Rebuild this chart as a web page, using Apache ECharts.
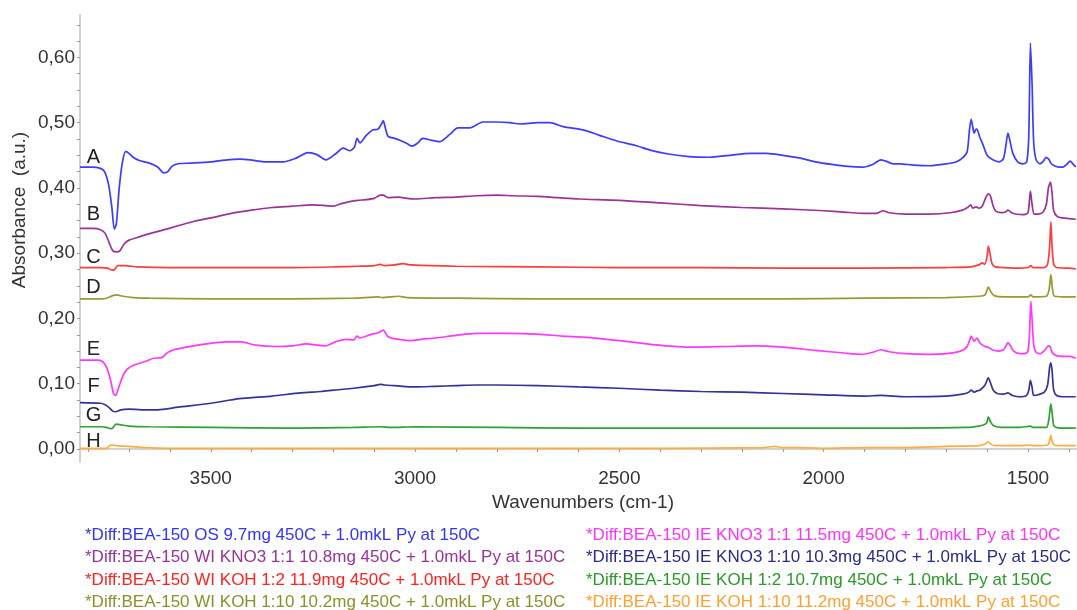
<!DOCTYPE html>
<html>
<head>
<meta charset="utf-8">
<title>IR spectra of adsorbed pyridine</title>
<script src="https://cdn.jsdelivr.net/npm/echarts@6/dist/echarts.min.js"></script>
<style>
  html, body { margin: 0; padding: 0; background: #fff; }
  #chart { width: 1077px; height: 610px; }
</style>
</head>
<body>
<div id="chart"></div>
<script>
// Difference spectra after pyridine adsorption at 150C: [wavenumber cm-1, absorbance]
const specA = [[3820,0.432],[3790,0.432],[3770,0.430],[3760,0.425],[3750,0.405],[3742,0.37],[3736,0.337],[3731,0.345],[3724,0.40],[3716,0.44],[3708,0.456],[3700,0.453],[3690,0.447],[3675,0.442],[3650,0.438],[3630,0.432],[3615,0.423],[3605,0.425],[3595,0.433],[3580,0.437],[3550,0.438],[3500,0.440],[3460,0.443],[3430,0.444],[3404,0.443],[3370,0.440],[3323,0.440],[3290,0.446],[3262,0.454],[3240,0.451],[3218,0.443],[3195,0.452],[3176,0.461],[3159,0.457],[3148,0.463],[3142,0.476],[3135,0.469],[3120,0.480],[3103,0.489],[3091,0.490],[3083,0.497],[3078,0.503],[3072,0.490],[3066,0.479],[3050,0.476],[3037,0.473],[3020,0.468],[3007,0.464],[2995,0.468],[2981,0.476],[2960,0.473],[2939,0.471],[2915,0.482],[2895,0.492],[2866,0.492],[2834,0.501],[2800,0.501],[2768,0.500],[2743,0.498],[2700,0.500],[2670,0.500],[2638,0.494],[2589,0.489],[2550,0.481],[2506,0.472],[2460,0.465],[2425,0.458],[2380,0.452],[2330,0.448],[2280,0.447],[2230,0.450],[2180,0.453],[2140,0.453],[2100,0.450],[2060,0.446],[2020,0.440],[1980,0.436],[1940,0.433],[1905,0.432],[1880,0.436],[1860,0.443],[1848,0.441],[1830,0.437],[1813,0.437],[1780,0.435],[1740,0.434],[1698,0.437],[1675,0.440],[1660,0.446],[1649,0.455],[1643,0.49],[1639,0.505],[1635,0.493],[1632,0.484],[1628,0.489],[1625,0.490],[1618,0.478],[1610,0.466],[1600,0.450],[1586,0.443],[1570,0.440],[1560,0.445],[1554,0.465],[1549,0.484],[1544,0.472],[1537,0.453],[1525,0.440],[1512,0.437],[1503,0.440],[1498,0.48],[1494,0.622],[1490,0.56],[1486,0.47],[1480,0.443],[1471,0.437],[1462,0.441],[1456,0.447],[1451,0.445],[1449,0.444],[1444,0.438],[1439,0.435],[1425,0.432],[1414,0.432],[1405,0.436],[1397,0.441],[1390,0.437],[1383,0.432]];
const specB = [[3820,0.338],[3790,0.338],[3770,0.336],[3758,0.33],[3748,0.315],[3740,0.304],[3730,0.302],[3722,0.304],[3712,0.314],[3700,0.320],[3680,0.324],[3650,0.330],[3620,0.335],[3580,0.342],[3540,0.349],[3500,0.354],[3450,0.361],[3400,0.366],[3350,0.370],[3300,0.372],[3250,0.374],[3220,0.373],[3200,0.372],[3180,0.376],[3160,0.379],[3140,0.381],[3120,0.382],[3100,0.384],[3085,0.389],[3078,0.389],[3066,0.385],[3040,0.386],[3020,0.384],[3000,0.383],[2950,0.385],[2900,0.386],[2850,0.388],[2800,0.389],[2760,0.388],[2700,0.387],[2650,0.385],[2600,0.383],[2500,0.381],[2400,0.377],[2300,0.373],[2200,0.370],[2100,0.368],[2000,0.365],[1950,0.363],[1900,0.361],[1870,0.361],[1855,0.365],[1840,0.362],[1800,0.360],[1740,0.360],[1690,0.362],[1660,0.366],[1648,0.370],[1640,0.374],[1635,0.369],[1627,0.371],[1620,0.369],[1612,0.372],[1604,0.384],[1597,0.391],[1592,0.388],[1585,0.372],[1578,0.364],[1565,0.362],[1555,0.363],[1549,0.366],[1540,0.362],[1530,0.360],[1512,0.359],[1500,0.362],[1494,0.395],[1490,0.375],[1485,0.360],[1475,0.360],[1463,0.363],[1455,0.375],[1450,0.400],[1445,0.409],[1441,0.392],[1437,0.365],[1428,0.356],[1415,0.354],[1400,0.353],[1383,0.352]];
const specC = [[3820,0.278],[3770,0.278],[3752,0.277],[3742,0.274],[3735,0.275],[3728,0.281],[3710,0.281],[3680,0.279],[3600,0.278],[3500,0.278],[3400,0.278],[3300,0.278],[3200,0.279],[3140,0.280],[3100,0.281],[3085,0.283],[3075,0.281],[3050,0.282],[3030,0.284],[3010,0.282],[2900,0.280],[2700,0.279],[2500,0.278],[2300,0.278],[2100,0.277],[1900,0.277],[1700,0.278],[1640,0.279],[1620,0.282],[1612,0.285],[1606,0.283],[1600,0.295],[1597,0.311],[1593,0.300],[1588,0.284],[1580,0.279],[1560,0.278],[1520,0.277],[1500,0.278],[1493,0.281],[1488,0.278],[1460,0.278],[1452,0.283],[1447,0.31],[1444,0.348],[1441,0.31],[1437,0.283],[1430,0.278],[1400,0.277],[1383,0.276]];
const specD = [[3820,0.230],[3770,0.230],[3755,0.231],[3740,0.235],[3730,0.236],[3715,0.234],[3690,0.232],[3650,0.231],[3500,0.230],[3300,0.230],[3150,0.231],[3090,0.233],[3080,0.232],[3040,0.234],[3020,0.232],[2900,0.231],[2700,0.230],[2400,0.230],[2100,0.230],[1900,0.231],[1700,0.232],[1620,0.234],[1605,0.236],[1597,0.248],[1590,0.240],[1583,0.235],[1560,0.233],[1500,0.233],[1493,0.236],[1488,0.233],[1455,0.234],[1448,0.245],[1444,0.267],[1440,0.245],[1435,0.234],[1400,0.233],[1383,0.233]];
const specE = [[3820,0.136],[3780,0.136],[3765,0.134],[3755,0.125],[3745,0.105],[3738,0.085],[3733,0.082],[3726,0.093],[3715,0.112],[3705,0.122],[3690,0.128],[3660,0.134],[3640,0.139],[3620,0.140],[3605,0.148],[3590,0.152],[3560,0.156],[3510,0.161],[3460,0.164],[3425,0.164],[3390,0.159],[3340,0.157],[3300,0.158],[3265,0.161],[3240,0.159],[3220,0.158],[3195,0.164],[3170,0.168],[3150,0.167],[3142,0.173],[3135,0.170],[3105,0.176],[3090,0.178],[3078,0.182],[3066,0.172],[3040,0.168],[3010,0.166],[2985,0.168],[2950,0.170],[2900,0.174],[2850,0.177],[2780,0.177],[2700,0.176],[2640,0.173],[2580,0.171],[2500,0.166],[2420,0.160],[2320,0.156],[2240,0.157],[2170,0.158],[2100,0.156],[2020,0.151],[1950,0.147],[1905,0.145],[1880,0.148],[1860,0.152],[1840,0.149],[1800,0.146],[1740,0.145],[1700,0.146],[1665,0.150],[1650,0.156],[1642,0.168],[1639,0.173],[1632,0.165],[1625,0.170],[1617,0.162],[1605,0.157],[1595,0.155],[1588,0.152],[1572,0.150],[1560,0.152],[1554,0.158],[1549,0.163],[1543,0.158],[1535,0.150],[1520,0.146],[1508,0.146],[1500,0.15],[1496,0.18],[1493,0.226],[1490,0.20],[1486,0.16],[1480,0.148],[1470,0.146],[1458,0.152],[1450,0.158],[1446,0.157],[1440,0.147],[1430,0.143],[1415,0.142],[1397,0.142],[1383,0.139]];
const specF = [[3820,0.071],[3770,0.070],[3760,0.068],[3750,0.064],[3740,0.058],[3733,0.057],[3720,0.060],[3700,0.061],[3670,0.060],[3630,0.060],[3580,0.064],[3500,0.070],[3430,0.077],[3350,0.081],[3280,0.086],[3230,0.088],[3200,0.090],[3150,0.093],[3100,0.097],[3085,0.099],[3075,0.098],[3050,0.097],[3000,0.095],[2950,0.096],[2900,0.097],[2850,0.098],[2800,0.098],[2700,0.097],[2600,0.095],[2500,0.093],[2400,0.090],[2300,0.088],[2200,0.087],[2100,0.085],[2000,0.083],[1900,0.081],[1860,0.082],[1800,0.080],[1700,0.081],[1660,0.084],[1645,0.087],[1639,0.090],[1632,0.087],[1625,0.089],[1618,0.090],[1605,0.098],[1597,0.109],[1591,0.100],[1585,0.090],[1575,0.085],[1560,0.084],[1549,0.086],[1538,0.082],[1520,0.080],[1505,0.081],[1498,0.09],[1494,0.105],[1490,0.095],[1486,0.082],[1475,0.083],[1460,0.087],[1452,0.098],[1447,0.125],[1444,0.132],[1441,0.12],[1437,0.09],[1430,0.082],[1415,0.080],[1383,0.080]];
const specG = [[3820,0.034],[3770,0.034],[3755,0.033],[3745,0.031],[3740,0.032],[3732,0.038],[3720,0.037],[3700,0.035],[3650,0.034],[3500,0.033],[3300,0.032],[3150,0.033],[3085,0.034],[3060,0.033],[3000,0.034],[2800,0.033],[2600,0.032],[2400,0.032],[2200,0.032],[2000,0.032],[1800,0.032],[1650,0.033],[1620,0.035],[1608,0.037],[1601,0.040],[1597,0.049],[1592,0.042],[1585,0.036],[1565,0.033],[1520,0.033],[1494,0.035],[1488,0.033],[1455,0.033],[1449,0.045],[1444,0.069],[1440,0.05],[1436,0.035],[1420,0.032],[1383,0.032]];
const specH = [[3820,0.001],[3770,0.001],[3755,0.001],[3745,0.006],[3738,0.006],[3732,0.005],[3700,0.004],[3660,0.002],[3600,0.001],[3400,0.001],[3200,0.001],[3000,0.001],[2800,0.001],[2600,0.001],[2400,0.001],[2150,0.002],[2120,0.004],[2100,0.002],[2060,0.002],[2000,0.001],[1900,0.002],[1800,0.002],[1700,0.004],[1620,0.005],[1604,0.008],[1597,0.011],[1590,0.007],[1580,0.005],[1520,0.005],[1494,0.006],[1488,0.005],[1452,0.006],[1447,0.013],[1444,0.021],[1441,0.012],[1436,0.006],[1420,0.005],[1383,0.005]];

const sampleNames = [
  '*Diff:BEA-150 OS 9.7mg 450C + 1.0mkL Py at 150C',
  '*Diff:BEA-150 WI KNO3 1:1 10.8mg 450C + 1.0mkL Py at 150C',
  '*Diff:BEA-150 WI KOH 1:2 11.9mg 450C + 1.0mkL Py at 150C',
  '*Diff:BEA-150 WI KOH 1:10 10.2mg 450C + 1.0mkL Py at 150C',
  '*Diff:BEA-150 IE KNO3 1:1 11.5mg 450C + 1.0mkL Py at 150C',
  '*Diff:BEA-150 IE KNO3 1:10 10.3mg 450C + 1.0mkL Py at 150C',
  '*Diff:BEA-150 IE KOH 1:2 10.7mg 450C + 1.0mkL Py at 150C',
  '*Diff:BEA-150 IE KOH 1:10 11.2mg 450C + 1.0mkL Py at 150C'
];
const traceLetters = ['A', 'B', 'C', 'D', 'E', 'F', 'G', 'H'];
const xTickLabels = [1500, 2000, 2500, 3000, 3500];
const yTickLabels = [0, 0.1, 0.2, 0.3, 0.4, 0.5, 0.6];

// styling
const lineColors = ['#3c3cff', '#993399', '#ff3b3b', '#999933', '#ff38ff', '#333399', '#33a033', '#ffad40'];
const textColors = ['#3333ff', '#993399', '#ff2222', '#8f8f2a', '#ff33ff', '#2a2a8c', '#2a9a2a', '#ffa030'];
// where each trace letter sits: [wavenumber, absorbance]
const letterAnchors = [[3787,0.447],[3787,0.359],[3787,0.294],[3787,0.248],[3787,0.153],[3787,0.096],[3787,0.052],[3787,0.012]];

const FONT = '"Liberation Sans", Arial, sans-serif';
const spectra = [specA, specB, specC, specD, specE, specF, specG, specH];

const xTicks = [];
for (let w = 1400; w <= 3800; w += 100) xTicks.push(w);
const yTicks = [];
for (let k = 0; k <= 26; k++) yTicks.push(+(k * 0.025).toFixed(3));

const series = spectra.map((d, i) => ({
  name: sampleNames[i],
  type: 'line',
  data: d,
  showSymbol: false,
  smooth: 0.25,
  lineStyle: { color: lineColors[i], width: 1.7 },
  itemStyle: { color: lineColors[i] },
  z: 10 - i,
  markPoint: {
    silent: true,
    symbol: 'circle',
    symbolSize: 0,
    label: { show: true, position: 'inside', formatter: traceLetters[i], color: '#222', fontSize: 20, fontFamily: FONT },
    data: [{ coord: letterAnchors[i] }]
  }
}));

function legendBlock(from, left) {
  return {
    orient: 'vertical',
    left: left,
    top: 526,
    height: 160,
    icon: 'none',
    itemWidth: 0,
    itemHeight: 10,
    itemGap: 4.5,
    padding: 0,
    selectedMode: false,
    textStyle: { fontSize: 17, fontFamily: FONT, lineHeight: 18 },
    data: sampleNames.slice(from, from + 4).map((n, k) => ({ name: n, textStyle: { color: textColors[from + k] } }))
  };
}

const chart = echarts.init(document.getElementById('chart'), null, { renderer: 'canvas' });
chart.setOption({
  animation: false,
  backgroundColor: '#fff',
  grid: { left: 80, right: 0, top: 15, bottom: 148, containLabel: false },
  legend: [legendBlock(0, 80), legendBlock(4, 581)],
  xAxis: {
    type: 'value',
    inverse: true,
    min: 1380,
    max: 3820,
    axisLine: { show: true, lineStyle: { color: '#c4c4c4', width: 1.5 } },
    axisTick: { show: true, length: 3, lineStyle: { color: '#999' }, customValues: xTicks },
    axisLabel: { customValues: xTickLabels, color: '#333', fontSize: 19, fontFamily: FONT, margin: 7, formatter: v => String(v) },
    splitLine: { show: false }
  },
  yAxis: {
    type: 'value',
    min: -0.02,
    max: 0.665,
    axisLine: { show: true, lineStyle: { color: '#c4c4c4', width: 1.5 } },
    axisTick: { show: true, length: 3, lineStyle: { color: '#999' }, customValues: yTicks },
    axisLabel: {
      customValues: yTickLabels,
      color: '#333', fontSize: 19, fontFamily: FONT, margin: 5,
      formatter: v => v.toFixed(2).replace('.', ',')
    },
    splitLine: { show: false }
  },
  graphic: [
    {
      type: 'text', x: 20, y: 210, rotation: Math.PI / 2,
      style: { text: 'Absorbance  (a.u.)', fill: '#333', font: '19px ' + FONT, textAlign: 'center', textVerticalAlign: 'middle' }
    },
    {
      type: 'text', x: 583, y: 503,
      style: { text: 'Wavenumbers (cm-1)', fill: '#333', font: '19px ' + FONT, textAlign: 'center', textVerticalAlign: 'middle' }
    }
  ],
  series: series
});
</script>
</body>
</html>
